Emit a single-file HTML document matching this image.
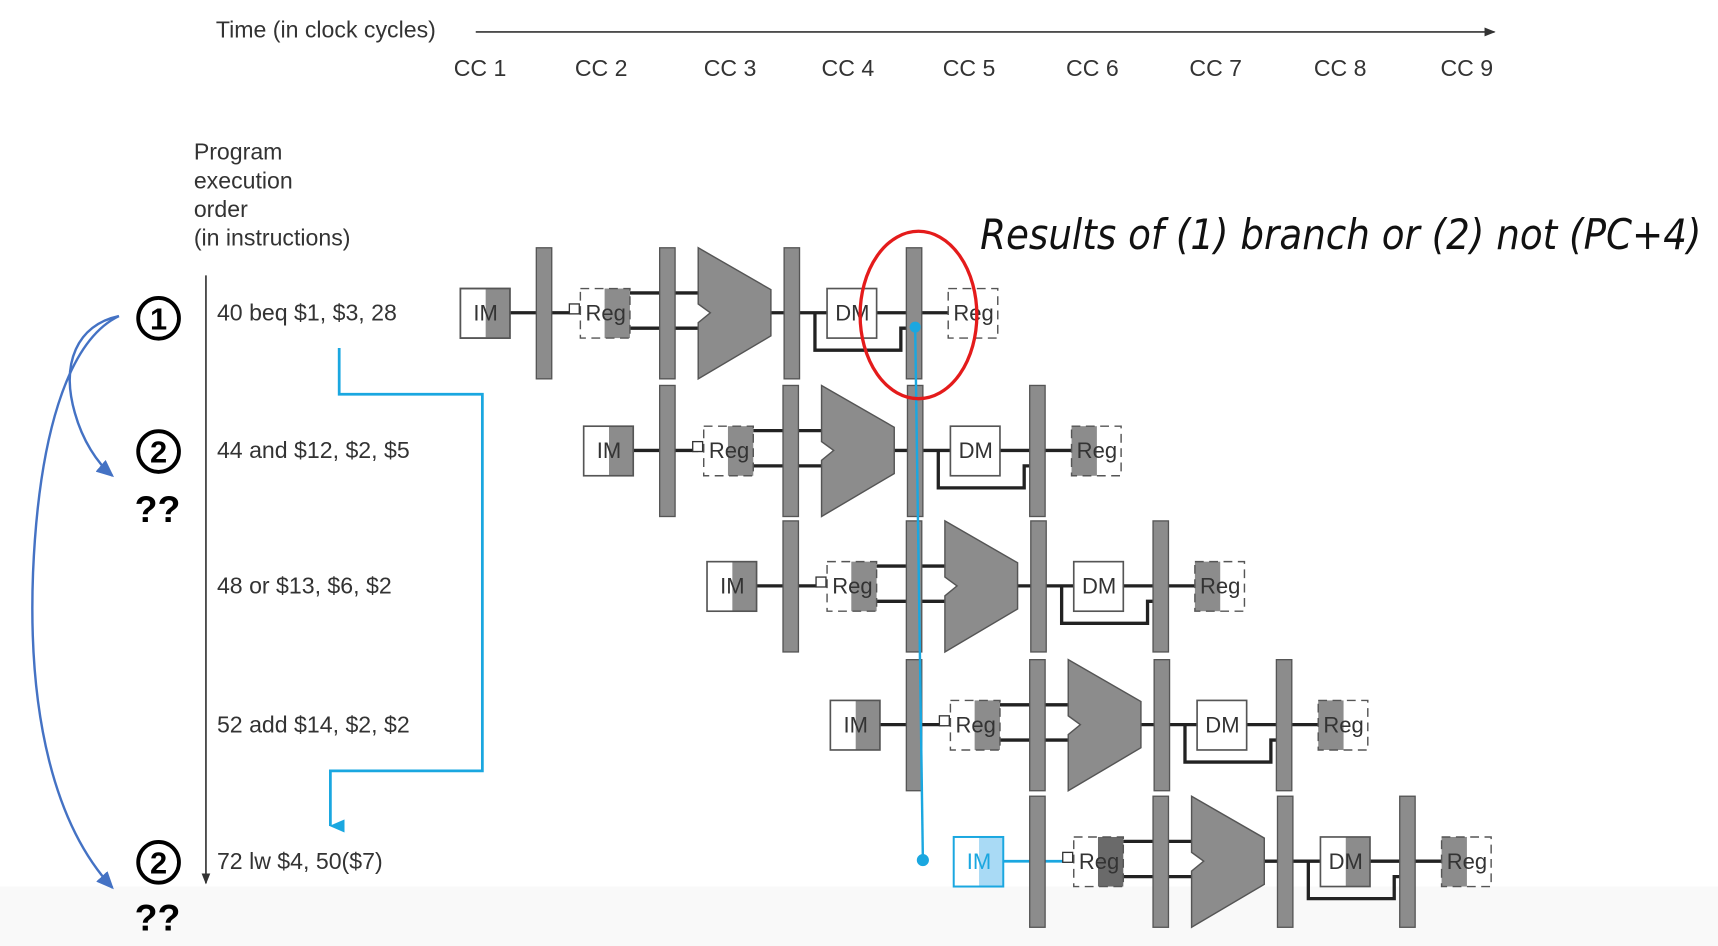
<!DOCTYPE html>
<html><head><meta charset="utf-8"><style>
html,body{margin:0;padding:0;background:#fff;}
svg{display:block;}
text{font-family:"Liberation Sans",Arial,sans-serif;}
</style></head><body>
<svg width="1718" height="946" viewBox="0 0 1560 859" preserveAspectRatio="none" xmlns="http://www.w3.org/2000/svg">
<defs>
<marker id="ak" markerWidth="10" markerHeight="8" refX="9" refY="4" orient="auto" markerUnits="userSpaceOnUse"><path d="M0,0 L10,4 L0,8 Z" fill="#333"/></marker>
<marker id="ab" markerWidth="16" markerHeight="14" refX="14" refY="7" orient="auto" markerUnits="userSpaceOnUse"><path d="M0,0 L16,7 L0,14 Z" fill="#4472c4"/></marker>
<marker id="ac" markerWidth="12" markerHeight="14" refX="6" refY="13" orient="auto" markerUnits="userSpaceOnUse"><path d="M0,0 L6,14 L12,0 Z" fill="#1aa7e0"/></marker>
</defs>
<rect x="0" y="0" width="1560" height="859" fill="#fff"/>
<rect x="0" y="805" width="1560" height="54" fill="#f9f9f9"/>

<!-- header -->
<text x="196" y="34" font-size="21" fill="#333">Time (in clock cycles)</text>
<line x1="432" y1="29" x2="1357" y2="29" stroke="#333" stroke-width="1.5" marker-end="url(#ak)"/>
<g font-size="21" fill="#333">
<text x="412" y="69">CC 1</text><text x="522" y="69">CC 2</text><text x="639" y="69">CC 3</text>
<text x="746" y="69">CC 4</text><text x="856" y="69">CC 5</text><text x="968" y="69">CC 6</text>
<text x="1080" y="69">CC 7</text><text x="1193" y="69">CC 8</text><text x="1308" y="69">CC 9</text>
</g>
<g font-size="21" fill="#333">
<text x="176" y="145">Program</text><text x="176" y="171">execution</text>
<text x="176" y="197">order</text><text x="176" y="223">(in instructions)</text>
</g>
<line x1="187" y1="250" x2="187" y2="802" stroke="#333" stroke-width="1.5" marker-end="url(#ak)"/>
<g font-size="21" fill="#333">
<text x="197" y="291">40 beq $1, $3, 28</text>
<text x="197" y="416">44 and $12, $2, $5</text>
<text x="197" y="539">48 or $13, $6, $2</text>
<text x="197" y="665">52 add $14, $2, $2</text>
<text x="197" y="789">72 lw $4, 50($7)</text>
</g>

<!-- circled numbers -->
<g font-family="Liberation Sans" font-weight="bold" fill="#000">
<circle cx="144" cy="289" r="18.5" fill="none" stroke="#000" stroke-width="3.5"/>
<text x="144" y="299" font-size="28" text-anchor="middle" font-weight="bold">1</text>
<circle cx="144" cy="410" r="18.5" fill="none" stroke="#000" stroke-width="3.5"/>
<text x="144" y="420" font-size="28" text-anchor="middle" font-weight="bold">2</text>
<text x="143" y="474" font-size="34" text-anchor="middle" font-weight="bold">??</text>
<circle cx="144" cy="783" r="18.5" fill="none" stroke="#000" stroke-width="3.5"/>
<text x="144" y="793" font-size="28" text-anchor="middle" font-weight="bold">2</text>
<text x="143" y="845" font-size="34" text-anchor="middle" font-weight="bold">??</text>
</g>

<!-- blue curved arrows -->
<path d="M108,287 C70,295 55,330 68,375 C75,400 88,420 102,432" fill="none" stroke="#4472c4" stroke-width="2.2" marker-end="url(#ab)"/>
<path d="M108,287 C60,310 35,400 30,520 C25,650 50,750 102,806" fill="none" stroke="#4472c4" stroke-width="2.2" marker-end="url(#ab)"/>

<!-- cyan branch path -->
<path d="M308,316 V358 H438 V700 H300 V750" fill="none" stroke="#1aa7e0" stroke-width="2.5" marker-end="url(#ac)"/>

<!-- pipeline rows -->
<g id="rows">
<!-- row template repeated -->
<g transform="translate(0,0)">
<path d="M463 284H487 M501 284H522 M572 266H634 M572 298H634 M700 284H751 M740 284V318H818V298H830 M796 284H861" stroke="#222" stroke-width="3" fill="none"/>
<rect x="418" y="262" width="45" height="45" fill="#fff" stroke="#555" stroke-width="1.5"/><rect x="441" y="262" width="22" height="45" fill="#8c8c8c"/><rect x="418" y="262" width="45" height="45" fill="none" stroke="#555" stroke-width="1.5"/>
<rect x="549" y="262" width="23" height="45" fill="#8c8c8c"/><rect x="527" y="262" width="45" height="45" fill="none" stroke="#555" stroke-width="1.3" stroke-dasharray="8,5"/>
<rect x="517" y="276" width="9" height="9" fill="#fff" stroke="#333" stroke-width="1.2"/>
<polygon points="634,225 700,263 700,305 634,344 634,293 645,284 634,276" fill="#8c8c8c" stroke="#555" stroke-width="1.3"/>
<rect x="751" y="262" width="45" height="45" fill="#fff" stroke="#555" stroke-width="1.5"/>
<rect x="861" y="262" width="45" height="45" fill="#fff" stroke="#555" stroke-width="1.3" stroke-dasharray="8,5"/>
<g fill="#8c8c8c" stroke="#555" stroke-width="1.2"><rect x="487" y="225" width="14" height="119"/><rect x="599" y="225" width="14" height="119"/><rect x="712" y="225" width="14" height="119"/><rect x="823" y="225" width="14" height="119"/></g>
<g font-size="20" fill="#333" text-anchor="middle"><text x="441" y="291">IM</text><text x="550" y="291">Reg</text><text x="774" y="291">DM</text><text x="884" y="291">Reg</text></g>
</g>

<g transform="translate(112,125)">
<path d="M463 284H487 M501 284H522 M572 266H634 M572 298H634 M700 284H751 M740 284V318H818V298H830 M796 284H861" stroke="#222" stroke-width="3" fill="none"/>
<rect x="418" y="262" width="45" height="45" fill="#fff"/><rect x="441" y="262" width="22" height="45" fill="#8c8c8c"/><rect x="418" y="262" width="45" height="45" fill="none" stroke="#555" stroke-width="1.5"/>
<rect x="549" y="262" width="23" height="45" fill="#8c8c8c"/><rect x="527" y="262" width="45" height="45" fill="none" stroke="#555" stroke-width="1.3" stroke-dasharray="8,5"/>
<rect x="517" y="276" width="9" height="9" fill="#fff" stroke="#333" stroke-width="1.2"/>
<polygon points="634,225 700,263 700,305 634,344 634,293 645,284 634,276" fill="#8c8c8c" stroke="#555" stroke-width="1.3"/>
<rect x="751" y="262" width="45" height="45" fill="#fff" stroke="#555" stroke-width="1.5"/>
<rect x="861" y="262" width="45" height="45" fill="#fff"/><rect x="861" y="262" width="23" height="45" fill="#8c8c8c"/><rect x="861" y="262" width="45" height="45" fill="none" stroke="#555" stroke-width="1.3" stroke-dasharray="8,5"/>
<g fill="#8c8c8c" stroke="#555" stroke-width="1.2"><rect x="487" y="225" width="14" height="119"/><rect x="599" y="225" width="14" height="119"/><rect x="712" y="225" width="14" height="119"/><rect x="823" y="225" width="14" height="119"/></g>
<g font-size="20" fill="#333" text-anchor="middle"><text x="441" y="291">IM</text><text x="550" y="291">Reg</text><text x="774" y="291">DM</text><text x="884" y="291">Reg</text></g>
</g>

<g transform="translate(224,248)">
<path d="M463 284H487 M501 284H522 M572 266H634 M572 298H634 M700 284H751 M740 284V318H818V298H830 M796 284H861" stroke="#222" stroke-width="3" fill="none"/>
<rect x="418" y="262" width="45" height="45" fill="#fff"/><rect x="441" y="262" width="22" height="45" fill="#8c8c8c"/><rect x="418" y="262" width="45" height="45" fill="none" stroke="#555" stroke-width="1.5"/>
<rect x="549" y="262" width="23" height="45" fill="#8c8c8c"/><rect x="527" y="262" width="45" height="45" fill="none" stroke="#555" stroke-width="1.3" stroke-dasharray="8,5"/>
<rect x="517" y="276" width="9" height="9" fill="#fff" stroke="#333" stroke-width="1.2"/>
<polygon points="634,225 700,263 700,305 634,344 634,293 645,284 634,276" fill="#8c8c8c" stroke="#555" stroke-width="1.3"/>
<rect x="751" y="262" width="45" height="45" fill="#fff" stroke="#555" stroke-width="1.5"/>
<rect x="861" y="262" width="45" height="45" fill="#fff"/><rect x="861" y="262" width="23" height="45" fill="#8c8c8c"/><rect x="861" y="262" width="45" height="45" fill="none" stroke="#555" stroke-width="1.3" stroke-dasharray="8,5"/>
<g fill="#8c8c8c" stroke="#555" stroke-width="1.2"><rect x="487" y="225" width="14" height="119"/><rect x="599" y="225" width="14" height="119"/><rect x="712" y="225" width="14" height="119"/><rect x="823" y="225" width="14" height="119"/></g>
<g font-size="20" fill="#333" text-anchor="middle"><text x="441" y="291">IM</text><text x="550" y="291">Reg</text><text x="774" y="291">DM</text><text x="884" y="291">Reg</text></g>
</g>

<g transform="translate(336,374)">
<path d="M463 284H487 M501 284H522 M572 266H634 M572 298H634 M700 284H751 M740 284V318H818V298H830 M796 284H861" stroke="#222" stroke-width="3" fill="none"/>
<rect x="418" y="262" width="45" height="45" fill="#fff"/><rect x="441" y="262" width="22" height="45" fill="#8c8c8c"/><rect x="418" y="262" width="45" height="45" fill="none" stroke="#555" stroke-width="1.5"/>
<rect x="549" y="262" width="23" height="45" fill="#8c8c8c"/><rect x="527" y="262" width="45" height="45" fill="none" stroke="#555" stroke-width="1.3" stroke-dasharray="8,5"/>
<rect x="517" y="276" width="9" height="9" fill="#fff" stroke="#333" stroke-width="1.2"/>
<polygon points="634,225 700,263 700,305 634,344 634,293 645,284 634,276" fill="#8c8c8c" stroke="#555" stroke-width="1.3"/>
<rect x="751" y="262" width="45" height="45" fill="#fff" stroke="#555" stroke-width="1.5"/>
<rect x="861" y="262" width="45" height="45" fill="#fff"/><rect x="861" y="262" width="23" height="45" fill="#8c8c8c"/><rect x="861" y="262" width="45" height="45" fill="none" stroke="#555" stroke-width="1.3" stroke-dasharray="8,5"/>
<g fill="#8c8c8c" stroke="#555" stroke-width="1.2"><rect x="487" y="225" width="14" height="119"/><rect x="599" y="225" width="14" height="119"/><rect x="712" y="225" width="14" height="119"/><rect x="823" y="225" width="14" height="119"/></g>
<g font-size="20" fill="#333" text-anchor="middle"><text x="441" y="291">IM</text><text x="550" y="291">Reg</text><text x="774" y="291">DM</text><text x="884" y="291">Reg</text></g>
</g>

<g transform="translate(448,498)">
<path d="M501 284H522" stroke="#1aa7e0" stroke-width="2.5" fill="none"/>
<path d="M463 284H487" stroke="#1aa7e0" stroke-width="2.5" fill="none"/>
<path d="M572 266H634 M572 298H634 M700 284H751 M740 284V318H818V298H830 M796 284H861" stroke="#222" stroke-width="3" fill="none"/>
<rect x="418" y="262" width="45" height="45" fill="#fff"/><rect x="441" y="262" width="22" height="45" fill="#a9daf5"/><rect x="418" y="262" width="45" height="45" fill="none" stroke="#1aa7e0" stroke-width="1.8"/>
<rect x="549" y="262" width="23" height="45" fill="#6a6a6a"/><rect x="527" y="262" width="45" height="45" fill="none" stroke="#555" stroke-width="1.3" stroke-dasharray="8,5"/>
<rect x="517" y="276" width="9" height="9" fill="#fff" stroke="#333" stroke-width="1.2"/>
<polygon points="634,225 700,263 700,305 634,344 634,293 645,284 634,276" fill="#8c8c8c" stroke="#555" stroke-width="1.3"/>
<rect x="751" y="262" width="45" height="45" fill="#fff"/><rect x="774" y="262" width="22" height="45" fill="#8c8c8c"/><rect x="751" y="262" width="45" height="45" fill="none" stroke="#555" stroke-width="1.5"/>
<rect x="861" y="262" width="45" height="45" fill="#fff"/><rect x="861" y="262" width="23" height="45" fill="#8c8c8c"/><rect x="861" y="262" width="45" height="45" fill="none" stroke="#555" stroke-width="1.3" stroke-dasharray="8,5"/>
<g fill="#8c8c8c" stroke="#555" stroke-width="1.2"><rect x="487" y="225" width="14" height="119"/><rect x="599" y="225" width="14" height="119"/><rect x="712" y="225" width="14" height="119"/><rect x="823" y="225" width="14" height="119"/></g>
<g font-size="20" fill="#333" text-anchor="middle"><text x="441" y="291" fill="#1aa7e0">IM</text><text x="550" y="291">Reg</text><text x="774" y="291">DM</text><text x="884" y="291">Reg</text></g>
</g>
</g>

<!-- cyan vertical -->
<line x1="831" y1="297" x2="838" y2="780" stroke="#1aa7e0" stroke-width="2.2"/>
<circle cx="831" cy="297" r="5" fill="#1aa7e0"/>
<circle cx="838" cy="781" r="5.5" fill="#1aa7e0"/>

<!-- red ellipse -->
<ellipse cx="834" cy="286" rx="53" ry="76" fill="none" stroke="#e41b1b" stroke-width="3"/>

<text x="890" y="226" font-size="38" font-style="italic" fill="#111" textLength="655" lengthAdjust="spacingAndGlyphs" style="font-family:'DejaVu Sans','Liberation Sans',sans-serif">Results of (1) branch or (2) not (PC+4)</text>
</svg>
</body></html>
